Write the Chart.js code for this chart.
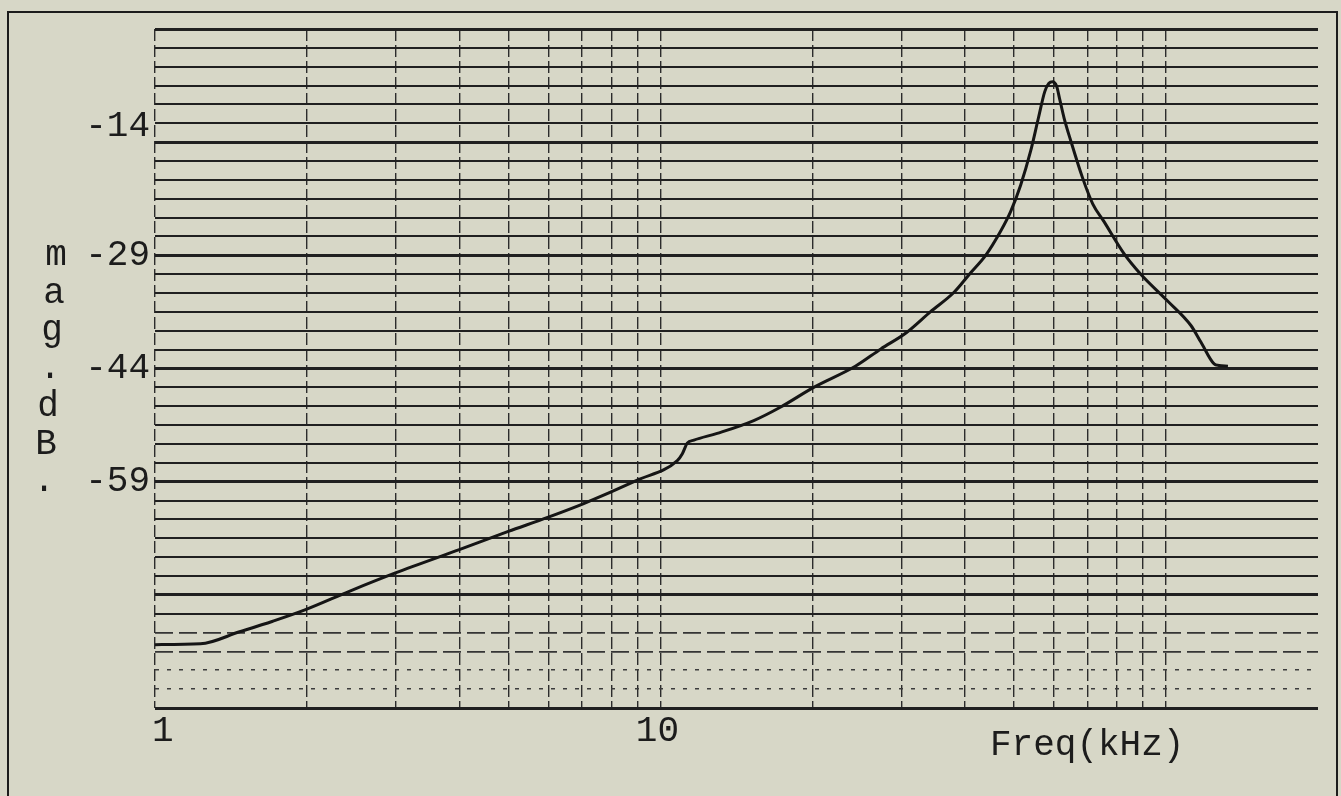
<!DOCTYPE html>
<html>
<head>
<meta charset="utf-8">
<script src="https://cdn.jsdelivr.net/npm/chart.js@4.4.1/dist/chart.umd.min.js"></script>
<style>
  html, body { margin: 0; padding: 0; background: #d7d7c7; }
  #wrap { width: 1341px; height: 796px; position: relative; }
</style>
</head>
<body>
<div id="wrap"><canvas id="plot"></canvas></div>
<script>
// Frequency response: magnitude (dB) against frequency (kHz)
const freqKHz = [1.00, 1.23, 1.47, 1.71, 1.98, 2.43, 2.99, 4.0, 5.0, 6.0, 7.05, 9.0,
  10.8, 11.05, 11.3, 11.65, 12.95, 15.3, 17.3, 20.1, 24.3, 27.3, 30.6, 34.2, 38.1, 41.1,
  44.0, 47.1, 49.3, 51.6, 54.0, 56.0, 57.6, 58.7, 59.7, 60.8, 61.7, 62.9, 64.9, 68.4,
  71.7, 75.4, 82.7, 89.2, 100.8, 112.1, 117.3, 124.6, 127.4, 132.7];
const magDB = [-80.6, -80.5, -78.9, -77.5, -76.0, -73.5, -71.1, -68.0, -65.6, -63.7, -61.9, -58.8,
  -56.2, -55.3, -53.9, -53.5, -52.6, -50.9, -49.1, -46.5, -43.7, -41.4, -39.3, -36.5, -33.9, -31.3,
  -29.0, -25.8, -23.2, -19.7, -15.2, -10.7, -7.3, -6.2, -6.0, -6.6, -8.4, -10.8, -13.9, -18.7,
  -22.2, -24.5, -28.8, -31.5, -35.05, -38.3, -40.5, -43.4, -43.6, -43.7];

// Axis ranges, grid positions and labels
const yMin = -89, yMax = 1, yStep = 2.5, yMajorStep = 15;
const xMin = 1, xMax = 200;
const xGridValues = [1, 2, 3, 4, 5, 6, 7, 8, 9, 10, 20, 30, 40, 50, 60, 70, 80, 90, 100];
const yDashedLevels = [-81.5, -79];
const yDottedLevels = [-86.5, -84];
const yLabelValues = [-14, -29, -44, -59];
const xLabelValues = [1, 10];
const xAxisTitle = 'Freq(kHz)';
const yAxisTitle = 'mag.dB.';

const PAPER = '#d7d7c7';
const INK = '#1c1c1c';
const FONT = '36px "Liberation Mono", "DejaVu Sans Mono", monospace';

const yLevels = [];
for (let v = yMin; v <= yMax + 1e-9; v += yStep) yLevels.push(Math.round(v * 10) / 10);
const ySolidLevels = yLevels.filter(v => !yDashedLevels.includes(v) && !yDottedLevels.includes(v));

const isMajor = v => {
  const k = (v - yMin) / yMajorStep;
  return Math.abs(k - Math.round(k)) < 1e-6;
};
const fixedTicks = values => scale => { scale.ticks = values.map(v => ({ value: v })); };

const hiddenLabels = { display: false };

// Paper background, outer frame and the typed labels
const paperPlugin = {
  id: 'paper',
  beforeDraw(chart) {
    const { ctx, width, height } = chart;
    ctx.save();
    ctx.fillStyle = PAPER;
    ctx.fillRect(0, 0, width, height);
    ctx.strokeStyle = INK;
    ctx.lineWidth = 2;
    ctx.strokeRect(8, 12, 1329, height + 20);
    ctx.restore();
  },
  afterDraw(chart) {
    const { ctx } = chart;
    const xs = chart.scales.x, ys = chart.scales.y;
    ctx.save();
    ctx.fillStyle = INK;
    ctx.font = FONT;

    // value labels left of the plot; the top one sits just above its line
    ctx.textAlign = 'right';
    ctx.textBaseline = 'middle';
    yLabelValues.forEach((v, i) => {
      const lift = i === 0 ? 16 : 0;
      ctx.fillText(String(v), 150, ys.getPixelForValue(v) - lift);
    });

    // stacked vertical axis title
    ctx.textAlign = 'center';
    ctx.textBaseline = 'alphabetic';
    [...yAxisTitle].forEach((ch, i) => {
      ctx.fillText(ch, 56 - 2 * i, 265 + 37.7 * i);
    });

    // frequency labels under the plot
    xLabelValues.forEach((v, i) => {
      const px = xs.getPixelForValue(v);
      ctx.textAlign = i === 0 ? 'left' : 'center';
      ctx.fillText(String(v), px - 3, 741);
    });
    ctx.textAlign = 'left';
    ctx.fillText(xAxisTitle, 990, 755);
    ctx.restore();
  }
};

new Chart(document.getElementById('plot'), {
  type: 'line',
  data: {
    datasets: [{
      data: freqKHz.map((f, i) => ({ x: f, y: magDB[i] })),
      borderColor: '#151515',
      borderWidth: 3,
      pointRadius: 0,
      fill: false,
      cubicInterpolationMode: 'monotone'
    }]
  },
  options: {
    responsive: true,
    maintainAspectRatio: false,
    animation: false,
    devicePixelRatio: 1,
    layout: { autoPadding: false, padding: { left: 155, top: 29, right: 23, bottom: 88 } },
    plugins: { legend: { display: false }, tooltip: { enabled: false } },
    scales: {
      x: {
        type: 'logarithmic', position: 'bottom', min: xMin, max: xMax,
        afterBuildTicks: fixedTicks(xGridValues),
        ticks: hiddenLabels,
        border: { display: false, dash: [12, 4] },
        grid: { drawTicks: false, color: '#2c2c2c', lineWidth: 1.4 }
      },
      y: {
        type: 'linear', position: 'left', min: yMin, max: yMax,
        afterBuildTicks: fixedTicks(ySolidLevels),
        ticks: hiddenLabels,
        border: { display: false },
        grid: {
          drawTicks: false, color: '#202020',
          lineWidth: ctx => isMajor(ctx.tick.value) ? 3 : 2
        }
      },
      yDashed: {
        type: 'linear', position: 'left', min: yMin, max: yMax,
        afterBuildTicks: fixedTicks(yDashedLevels),
        ticks: hiddenLabels,
        border: { display: false, dash: [18, 6] },
        grid: { drawTicks: false, color: '#353535', lineWidth: 1.8 }
      },
      yDotted: {
        type: 'linear', position: 'left', min: yMin, max: yMax,
        afterBuildTicks: fixedTicks(yDottedLevels),
        ticks: hiddenLabels,
        border: { display: false, dash: [4, 8] },
        grid: { drawTicks: false, color: '#3c3c3c', lineWidth: 1.6 }
      }
    }
  },
  plugins: [paperPlugin]
});
</script>
</body>
</html>
